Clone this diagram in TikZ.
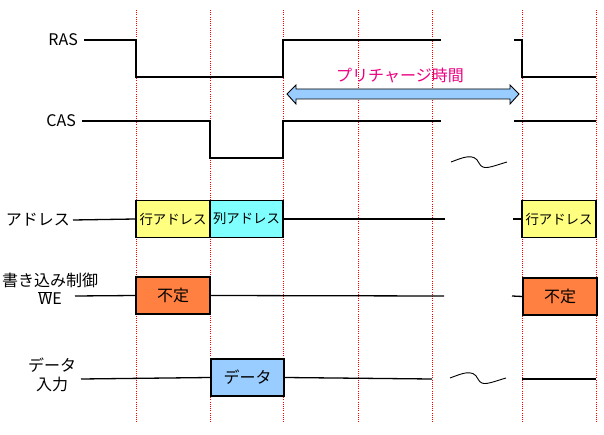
\documentclass[tikz,border=0pt]{standalone}
\usepackage{fontspec}
\setmainfont{Noto Sans CJK JP}
\usetikzlibrary{positioning}
\definecolor{rowyellow}{RGB}{255,255,128}
\definecolor{colcyan}{RGB}{128,255,255}
\definecolor{undeforange}{RGB}{255,128,64}
\definecolor{datablue}{RGB}{153,204,255}
\definecolor{prepink}{RGB}{236,0,128}
\definecolor{gridred}{RGB}{255,0,0}

\begin{document}
\begin{tikzpicture}[x=1pt, y=-1pt,
    sig/.style={line width=1.3pt},
    grid/.style={gridred, line width=1pt, dash pattern=on 1pt off 1.2pt},
    cellbox/.style={draw, line width=1.3pt, minimum height=37pt, inner sep=0pt},
    lbl/.style={font=\fontsize{16}{18}\selectfont, inner sep=0pt}]
            \useasboundingbox (0,0) rectangle (604,435);

            % Timing grid
            \foreach \gx in {136,210,283,358,432,522,596}
                \draw[grid] (\gx,10) -- (\gx,423);

            % Signal names
            \node[lbl, anchor=east] (ras) at (78,40) {RAS};
            \node[lbl, anchor=east] (cas) at (76,121) {CAS};
            \node[lbl, anchor=east] (addr) at (70,220) {アドレス};
            \node[lbl] (wrctl) at (50,280) {書き込み制御};
            \node[lbl] (we) at (50,298) {$\overline{\mbox{W}}$E};
            \node[lbl] (dtop) at (52,365) {データ};
            \node[lbl] (din) at (52,384) {入力};

            % RAS / CAS
            \draw[sig] ([xshift=6pt]ras.east) -- (136,40) -- (136,77) -- (283,77) -- (283,40) -- (441,40);
            \draw[sig] (514,40) -- (522,40) -- (522,77) -- (596,77);
            \draw[sig] ([xshift=6pt]cas.east) -- (210,121) -- (210,158) -- (283,158) -- (283,121) -- (441,121);
            \draw[sig] (514,121) -- (596,121);

            % Precharge time
            \draw[line width=0.9pt, fill=datablue] (287,94) -- (296,85) -- (296,89) -- (510,89) -- (510,85)
                -- (519,94) -- (510,104) -- (510,99) -- (296,99) -- (296,104) -- cycle;
            \node[lbl, prepink] (pre) at (400,75) {プリチャージ時間};

            % Address
            \node[cellbox, fill=rowyellow, minimum width=74pt, font=\fontsize{13.4}{15}\selectfont] (rowa) at (173,219) {行アドレス};
            \node[cellbox, fill=colcyan, minimum width=73pt, font=\fontsize{13.4}{15}\selectfont] (cola) at (246.5,219) {列アドレス};
            \node[cellbox, fill=rowyellow, minimum width=74pt, font=\fontsize{13.4}{15}\selectfont] (rowb) at (559,219) {行アドレス};
            \draw[sig] ([xshift=3pt]addr.east) -- (rowa.west);
            \draw[sig] (cola.east) -- (445,219);
            \draw[sig] (513,219) -- (rowb.west);

            % Write control
            \node[cellbox, fill=undeforange, minimum width=74pt, font=\fontsize{16}{18}\selectfont] (unda) at (173,295.5) {不定};
            \node[cellbox, fill=undeforange, minimum width=74pt, font=\fontsize{16}{18}\selectfont] (undb) at (560,296.5) {不定};
            \draw[sig] (75,296) -- (unda.west);
            \draw[sig] (unda.east) -- (444,296);
            \draw[sig] (512,296) -- (undb.west);

            % Data input
            \node[cellbox, fill=datablue, minimum width=73pt, font=\fontsize{16}{18}\selectfont] (data) at (247.5,377.5) {データ};
            \draw[sig] (81,379) -- (data.west);
            \draw[sig] (data.east) -- (432,379);
            \draw[sig] (522,379) -- (596,379);

            % Omitted interval
            \draw[line width=0.9pt] (451,162) .. controls (462,158) and (474,152) .. (479,163)
                .. controls (483,171) and (490,167) .. (507,162);
            \draw[line width=0.9pt] (450,378) .. controls (461,374) and (473,368) .. (478,379)
                .. controls (482,387) and (489,383) .. (506,378);
        \end{tikzpicture}
\end{document}
